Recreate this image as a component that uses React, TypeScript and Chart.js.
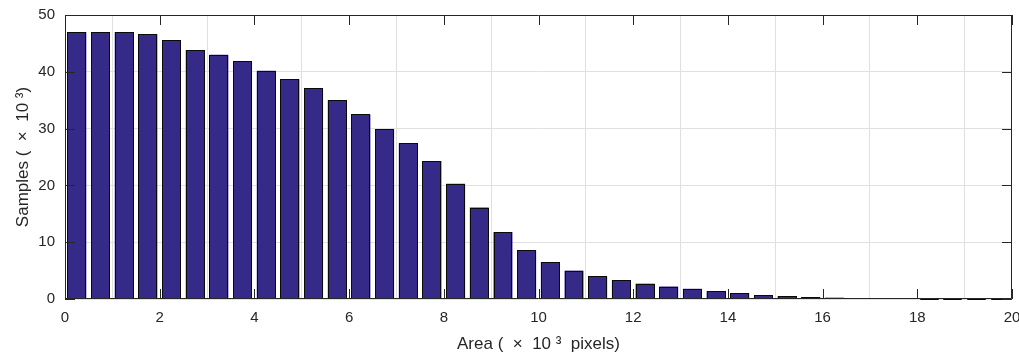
import React, { useEffect, useRef } from "react";
import { Chart, registerables } from "chart.js";

Chart.register(...registerables);

const binCenters: number[] = [
  0.25, 0.75, 1.25, 1.75, 2.25, 2.75, 3.25, 3.75, 4.25, 4.75,
  5.25, 5.75, 6.25, 6.75, 7.25, 7.75, 8.25, 8.75, 9.25, 9.75,
  10.25, 10.75, 11.25, 11.75, 12.25, 12.75, 13.25, 13.75, 14.25, 14.75,
  15.25, 15.75, 16.25, 16.75, 17.25, 17.75, 18.25, 18.75, 19.25, 19.75,
];
const sampleCounts: number[] = [
  47.0, 47.0, 47.0, 46.6, 45.6, 43.8, 43.0, 41.9, 40.2, 38.7,
  37.1, 35.0, 32.5, 29.9, 27.4, 24.3, 20.3, 16.1, 11.8, 8.6,
  6.5, 5.0, 4.0, 3.3, 2.7, 2.2, 1.8, 1.35, 1.0, 0.7,
  0.5, 0.35, 0.24, 0.17, 0.12, 0.09, 0.07, 0.05, 0.04, 0.03,
];
const xTicks: number[] = [0, 2, 4, 6, 8, 10, 12, 14, 16, 18, 20];
const yTicks: number[] = [0, 10, 20, 30, 40, 50];
const xTitle = "Area (  \u00d7  10 \u00b3  pixels)";
const yTitle = "Samples (  \u00d7  10 \u00b3)";

const AXIS = "#262626";
const GRID = "#e0e0e0";
const BAR = "#352a87";
const EDGE = "#0a0a0a";
const FONT = "'Liberation Sans', Arial, Helvetica, sans-serif";

const crispBarsPlugin = {
  id: "crispBars",
  afterDatasetsDraw(chart: any) {
    const { ctx } = chart;
    const meta = chart.getDatasetMeta(0);
    ctx.save();
    ctx.lineWidth = 1;
    meta.data.forEach((el: any) => {
      const p = el.getProps(["x", "y", "base", "width"], true);
      const l = Math.round(p.x - p.width / 2);
      const r = Math.round(p.x + p.width / 2);
      const t = Math.round(p.y);
      const b = Math.round(p.base);
      ctx.fillStyle = BAR;
      ctx.fillRect(l, t, r - l, b - t);
      ctx.strokeStyle = EDGE;
      ctx.strokeRect(l + 0.5, t + 0.5, r - l - 1, Math.max(b - t - 1, 0));
    });
    ctx.restore();
  },
};

const boxPlugin = {
  id: "matlabBox",
  afterDatasetsDraw(chart: any) {
    const { ctx, chartArea } = chart;
    const { left, right, top, bottom } = chartArea;
    const xs = chart.scales.x;
    const ys = chart.scales.y;
    const tl = 10;
    ctx.save();
    ctx.strokeStyle = AXIS;
    ctx.lineWidth = 1;
    ctx.beginPath();
    ctx.rect(Math.round(left) + 0.5, Math.round(top) + 0.5, Math.round(right - left) - 1, Math.round(bottom - top) - 1);
    ctx.stroke();
    ctx.beginPath();
    xTicks.forEach((v) => {
      const px = Math.round(xs.getPixelForValue(v)) + 0.5;
      ctx.moveTo(px, bottom);
      ctx.lineTo(px, bottom - tl);
      ctx.moveTo(px, top);
      ctx.lineTo(px, top + tl);
    });
    yTicks.forEach((v) => {
      const py = Math.round(ys.getPixelForValue(v)) + 0.5;
      ctx.moveTo(left, py);
      ctx.lineTo(left + tl, py);
      ctx.moveTo(right, py);
      ctx.lineTo(right - tl, py);
    });
    ctx.stroke();
    ctx.restore();
  },
};

export default function App() {
  const ref = useRef<HTMLCanvasElement | null>(null);
  useEffect(() => {
    if (!ref.current) return;
    const chart = new Chart(ref.current, {
      type: "bar",
      data: {
        datasets: [
          {
            data: binCenters.map((x, i) => ({ x, y: sampleCounts[i] })),
            backgroundColor: BAR,
            borderColor: EDGE,
            borderWidth: 0,
            barPercentage: 0.8,
            categoryPercentage: 1.0,
          },
        ],
      },
      options: {
        animation: false,
        responsive: false,
        maintainAspectRatio: false,
        layout: { padding: { top: 15, right: 7, left: 0, bottom: 0 } },
        plugins: { legend: { display: false }, tooltip: { enabled: false } },
        scales: {
          x: {
            type: "linear",
            min: 0,
            max: 20,
            offset: false,
            afterBuildTicks(scale: any) {
              scale.ticks = xTicks.map((v) => ({ value: v }));
            },
            afterFit(scale: any) {
              scale.height = 57;
              scale.paddingLeft = 0;
              scale.paddingRight = 0;
            },
            grid: { color: GRID, drawTicks: false, lineWidth: 1 },
            border: { display: false },
            ticks: {
              color: AXIS,
              font: { family: FONT, size: 15 },
              padding: 10,
              maxRotation: 0,
              autoSkip: false,
            },
            title: {
              display: true,
              text: xTitle,
              color: AXIS,
              font: { family: FONT, size: 17 },
              padding: { top: 0, bottom: 1 },
            },
          },
          y: {
            min: 0,
            max: 50,
            afterBuildTicks(scale: any) {
              scale.ticks = yTicks.map((v) => ({ value: v }));
            },
            afterFit(scale: any) {
              scale.width = 65;
              scale.paddingTop = 0;
              scale.paddingBottom = 0;
            },
            grid: { color: GRID, drawTicks: false, lineWidth: 1 },
            border: { display: false },
            ticks: {
              color: AXIS,
              font: { family: FONT, size: 15 },
              padding: 10,
            },
            title: {
              display: true,
              text: yTitle,
              color: AXIS,
              font: { family: FONT, size: 17 },
              padding: { top: 13, bottom: 0 },
            },
          },
        },
      },
      plugins: [crispBarsPlugin, boxPlugin],
    });
    return () => chart.destroy();
  }, []);
  return (
    <div style={{ position: "fixed", left: 0, top: 0, width: 1019, height: 356, background: "#fff" }}>
      <canvas ref={ref} width={1019} height={356} style={{ width: 1019, height: 356, display: "block" }} />
    </div>
  );
}
